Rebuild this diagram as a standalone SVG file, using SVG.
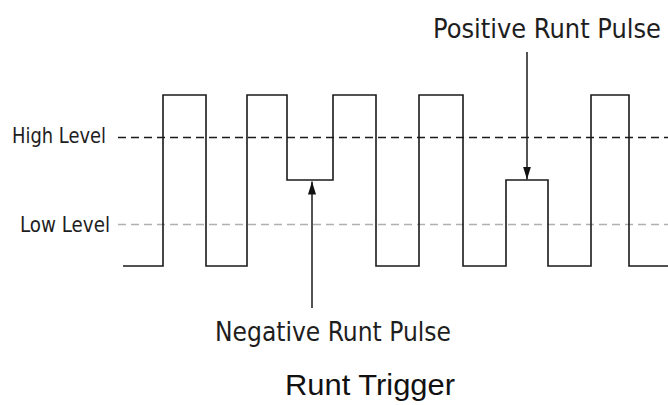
<svg xmlns="http://www.w3.org/2000/svg" width="668" height="405" viewBox="0 0 668 405">
<defs>
<marker id="ah" viewBox="0 0 13 8" refX="13" refY="4" markerWidth="13" markerHeight="8" markerUnits="userSpaceOnUse" orient="auto">
<path d="M0,0 L13,4 L0,8 z" fill="#111"/>
</marker>
<style>
.lbl{font-family:"DejaVu Sans Condensed","DejaVu Sans",sans-serif;font-stretch:condensed;fill:#1e1e1e}
.wave{fill:none;stroke:#1a1a1a;stroke-width:1.6}
.hi{stroke:#1a1a1a;stroke-width:1.6;stroke-dasharray:8 5}
.lo{stroke:#b0b0b0;stroke-width:1.6;stroke-dasharray:8 5}
.arr{stroke:#1a1a1a;stroke-width:1.5;fill:none}
</style>
</defs>
<rect width="668" height="405" fill="#fff"/>
<g id="levels">
<line class="hi" x1="118" y1="137.5" x2="668" y2="137.5"/>
<line class="lo" x1="118" y1="224.5" x2="668" y2="224.5"/>
</g>
<g id="waveform">
<path class="wave" d="M123 266 H163 V95 H206 V266 H247 V95 H287 V180 H333 V95 H376 V266 H419 V95 H463 V266 H506 V180 H548 V266 H591 V95 H629 V266 H668"/>
</g>
<g id="connectors">
<line class="arr" x1="312" y1="308" x2="312" y2="181.5" marker-end="url(#ah)"/>
<line class="arr" x1="527" y1="52" x2="527" y2="179.5" marker-end="url(#ah)"/>
</g>
<g id="label-high"><text class="lbl" x="12" y="143" font-size="20.5" textLength="94" lengthAdjust="spacingAndGlyphs">High Level</text></g>
<g id="label-low"><text class="lbl" x="20" y="231.5" font-size="20.5" textLength="90" lengthAdjust="spacingAndGlyphs">Low Level</text></g>
<g id="label-positive"><text class="lbl" x="433" y="38" font-size="26.5" textLength="228" lengthAdjust="spacingAndGlyphs">Positive Runt Pulse</text></g>
<g id="label-negative"><text class="lbl" x="215" y="341" font-size="26.5" textLength="236" lengthAdjust="spacingAndGlyphs">Negative Runt Pulse</text></g>
<g id="title"><text x="285" y="395" font-family="Liberation Sans, Arial, sans-serif" font-size="30" fill="#111" textLength="170" lengthAdjust="spacingAndGlyphs">Runt Trigger</text></g>
</svg>
